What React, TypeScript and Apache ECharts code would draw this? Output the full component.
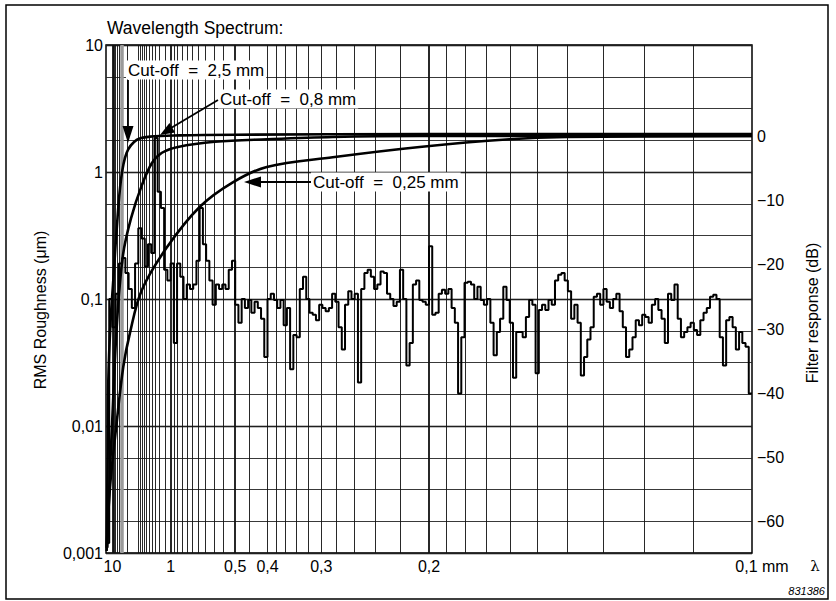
import React, { useEffect, useRef } from 'react';
import * as echarts from 'echarts';

// ---- Data ----
// Spectrum: RMS roughness (µm) per spatial-frequency bin (1/mm), bins of width SPEC_DF starting at SPEC_F0
const SPEC_F0 = 0;
const SPEC_DF = 0.05;
const spectrumRms = [
  0.0012, 0.10, 0.06, 0.11, 0.19, 0.21, 0.16, 0.12, 0.085, 0.19,
  0.36, 0.30, 0.18, 0.27, 0.23, 1.85, 0.70, 0.52, 0.17, 0.14,
  0.19, 0.045, 0.19, 0.15, 0.10, 0.13, 0.12, 0.13, 0.20, 0.52,
  0.27, 0.20, 0.14, 0.09, 0.13, 0.12, 0.13, 0.12, 0.17, 0.20,
  0.09, 0.065, 0.10, 0.085, 0.098, 0.078, 0.095, 0.085, 0.07, 0.035,
  0.10, 0.11, 0.098, 0.085, 0.098, 0.062, 0.085, 0.028, 0.052, 0.05,
  0.12, 0.15, 0.10, 0.078, 0.075, 0.068, 0.09, 0.085, 0.08, 0.085,
  0.11, 0.095, 0.06, 0.04, 0.09, 0.115, 0.10, 0.11, 0.022, 0.12,
  0.16, 0.17, 0.15, 0.12, 0.13, 0.165, 0.16, 0.11, 0.10, 0.088,
  0.095, 0.17, 0.10, 0.03, 0.045, 0.13, 0.14, 0.098, 0.095, 0.09,
  0.26, 0.075, 0.078, 0.11, 0.118, 0.11, 0.12, 0.085, 0.065, 0.018,
  0.05, 0.134, 0.137, 0.13, 0.10, 0.125, 0.098, 0.09, 0.10, 0.065,
  0.036, 0.055, 0.07, 0.125, 0.098, 0.065, 0.024, 0.055, 0.055, 0.05,
  0.072, 0.098, 0.09, 0.026, 0.082, 0.09, 0.082, 0.098, 0.09, 0.14,
  0.155, 0.16, 0.14, 0.115, 0.07, 0.09, 0.065, 0.025, 0.035, 0.048,
  0.06, 0.104, 0.11, 0.09, 0.12, 0.095, 0.085, 0.10, 0.11, 0.08,
  0.06, 0.035, 0.04, 0.05, 0.068, 0.062, 0.075, 0.072, 0.065, 0.09,
  0.10, 0.082, 0.07, 0.045, 0.11, 0.098, 0.13, 0.07, 0.05, 0.055,
  0.06, 0.065, 0.057, 0.052, 0.068, 0.078, 0.085, 0.104, 0.108, 0.10,
  0.05, 0.03, 0.068, 0.072, 0.06, 0.04, 0.055, 0.045, 0.042, 0.018,
];

// Filter responses: [spatial frequency (1/mm), response (dB)]
const cutoff25 = [
  [0.01, -64], [0.025, -50], [0.036, -38], [0.07, -29], [0.113, -22.4], [0.165, -14.6],
  [0.232, -6.8], [0.32, -2.6], [0.475, -0.6], [0.68, -0.1], [1.14, 0.1], [2, 0.2], [5, 0.3], [10, 0.3],
];
const cutoff08 = [
  [0.02, -64], [0.05, -55], [0.093, -45], [0.17, -29], [0.263, -18.5], [0.387, -12.8],
  [0.557, -7.6], [0.711, -4.2], [0.866, -2.6], [1.113, -1.7], [1.685, -0.9], [2.5, -0.5],
  [3.51, -0.15], [4.85, 0], [10, 0],
];
const cutoff025 = [
  [0.01, -64.5], [0.062, -54.6], [0.165, -44.6], [0.267, -35.9], [0.371, -30.6], [0.552, -24],
  [0.943, -17.3], [1.453, -11], [1.963, -7.2], [2.489, -4.8], [3.51, -3.3], [4.855, -1.7],
  [6.246, -0.5], [7.127, -0.15], [10, 0],
];

// Grid / tick definitions (wavelengths in mm)
const gridWavelengths = [
  10, 9, 8, 7, 6, 5, 3, 2, 1.9, 1.8, 1.7, 1.6, 1.5, 1.4, 1.3, 1.2, 1.1, 1,
  0.95, 0.9, 0.85, 0.8, 0.75, 0.7, 0.65, 0.6, 0.55, 0.5, 0.45, 0.4,
  0.38, 0.36, 0.34, 0.32, 0.3, 0.28, 0.26, 0.24, 0.22, 0.2,
  0.19, 0.18, 0.17, 0.16, 0.15, 0.14, 0.13, 0.12, 0.11,
];
const boldWavelengths = [10, 1, 0.5, 0.2];
const greyWavelengths = [4];
const xTickWavelengths = [10, 1, 0.5, 0.4, 0.3, 0.2, 0.1];
const xTickLabels = ['10', '1', '0,5', '0,4', '0,3', '0,2', '0,1 mm'];
const yTickValues = [10, 1, 0.1, 0.01, 0.001];
const yTickLabels = ['10', '1', '0,1', '0,01', '0,001'];
const dbTicks = [0, -10, -20, -30, -40, -50, -60];

const FONT = '"Liberation Sans", Arial, Helvetica, sans-serif';

export default function App() {
  const ref = useRef<HTMLDivElement>(null);

  useEffect(() => {
    if (!ref.current) return;
    const chart = echarts.init(ref.current, undefined, { renderer: 'svg' });

    const specData = spectrumRms.map((v, i) => [SPEC_F0 + i * SPEC_DF, v]);
    specData.push([10, spectrumRms[spectrumRms.length - 1]]);

    const vLines = [
      ...gridWavelengths.map((w) => ({
        xAxis: 1 / w,
        lineStyle: {
          color: '#111',
          width: boldWavelengths.includes(w) ? 1.8 : 0.9,
          type: 'solid',
        },
      })),
      ...greyWavelengths.map((w) => ({
        xAxis: 1 / w,
        lineStyle: { color: '#9a9a9a', width: 3.5, type: 'solid' },
      })),
    ];

    const xCustom = xTickWavelengths.map((w) => 1 / w);

    const cutText = (text: string, x: number, y: number) => ({
      type: 'text',
      x,
      y,
      z: 100,
      style: {
        text,
        fontFamily: FONT,
        fontSize: 17,
        fill: '#000',
        align: 'left',
        verticalAlign: 'middle',
        backgroundColor: '#fff',
        padding: [1, 2, 1, 2],
      },
    });

    const option: any = {
      animation: false,
      backgroundColor: '#fff',
      grid: {
        left: 106,
        top: 45,
        width: 646,
        height: 508,
        show: true,
        borderColor: '#000',
        borderWidth: 1.5,
        backgroundColor: 'transparent',
      },
      xAxis: {
        type: 'value',
        min: 0,
        max: 10,
        axisLine: { show: false },
        axisTick: { show: false },
        splitLine: { show: false },
        axisLabel: {
          customValues: xCustom,
          color: '#000',
          fontSize: 16,
          fontFamily: FONT,
          margin: 5,
          formatter: (v: number) => {
            const i = xCustom.findIndex((c) => Math.abs(c - v) < 1e-6);
            if (i < 0) return '';
            if (i === xCustom.length - 1) return '{mm|' + xTickLabels[i] + '}';
            return xTickLabels[i];
          },
          rich: {
            mm: { fontSize: 16, fontFamily: FONT, color: '#000', padding: [0, 0, 0, 20] },
          },
        },
      },
      yAxis: [
        {
          type: 'log',
          logBase: 10,
          min: 0.001,
          max: 10,
          splitNumber: 4,
          position: 'left',
          axisLine: { show: false },
          axisTick: { show: false },
          splitLine: { show: true, lineStyle: { color: '#000', width: 1.3 } },
          axisLabel: {
            color: '#000',
            fontSize: 16,
            fontFamily: FONT,
            margin: 3,
            formatter: (v: number) => {
              const i = yTickValues.findIndex(
                (t) => Math.abs(Math.log10(t) - Math.log10(v)) < 1e-6
              );
              return i >= 0 ? yTickLabels[i] : '';
            },
          },
        },
        {
          type: 'value',
          min: -64.82,
          max: 14.15,
          position: 'right',
          axisLine: { show: false },
          axisTick: { show: false },
          splitLine: { show: false },
          axisLabel: {
            customValues: dbTicks,
            color: '#000',
            fontSize: 16,
            fontFamily: FONT,
            margin: 5,
            formatter: (v: number) => (v === 0 ? '0' : '\u2212' + Math.abs(v)),
          },
        },
        {
          type: 'value',
          min: 0,
          max: 16,
          interval: 1,
          position: 'left',
          axisLine: { show: false },
          axisTick: { show: false },
          axisLabel: { show: false },
          splitLine: { show: true, lineStyle: { color: '#222', width: 0.9 } },
        },
      ],
      series: [
        {
          type: 'line',
          name: 'grid',
          xAxisIndex: 0,
          yAxisIndex: 2,
          data: [[0, 0]],
          symbol: 'none',
          lineStyle: { opacity: 0 },
          silent: true,
          z: 1,
          markLine: {
            silent: true,
            symbol: ['none', 'none'],
            label: { show: false },
            data: vLines,
          },
        },
        {
          type: 'line',
          name: 'spectrum',
          xAxisIndex: 0,
          yAxisIndex: 0,
          data: specData,
          step: 'end',
          symbol: 'none',
          lineStyle: { color: '#000', width: 2 },
          z: 5,
        },
        {
          type: 'line',
          name: 'Cut-off 2,5 mm',
          yAxisIndex: 1,
          data: cutoff25,
          smooth: 0.35,
          symbol: 'none',
          lineStyle: { color: '#000', width: 2.6 },
          z: 6,
        },
        {
          type: 'line',
          name: 'Cut-off 0,8 mm',
          yAxisIndex: 1,
          data: cutoff08,
          smooth: 0.35,
          symbol: 'none',
          lineStyle: { color: '#000', width: 2.6 },
          z: 6,
        },
        {
          type: 'line',
          name: 'Cut-off 0,25 mm',
          yAxisIndex: 1,
          data: cutoff025,
          smooth: 0.35,
          symbol: 'none',
          lineStyle: { color: '#000', width: 2.6 },
          z: 6,
        },
      ],
      graphic: [
        {
          type: 'rect',
          shape: { x: 6, y: 5, width: 822, height: 594 },
          style: { fill: 'none', stroke: '#000', lineWidth: 1.5 },
          silent: true,
        },
        {
          type: 'text',
          x: 107,
          y: 28,
          style: {
            text: 'Wavelength Spectrum:',
            fontFamily: FONT,
            fontSize: 17.5,
            fill: '#000',
            align: 'left',
            verticalAlign: 'middle',
          },
        },
        {
          type: 'text',
          x: 40,
          y: 310,
          rotation: Math.PI / 2,
          style: {
            text: 'RMS Roughness (\u03bcm)',
            fontFamily: FONT,
            fontSize: 16,
            fill: '#000',
            align: 'center',
            verticalAlign: 'middle',
          },
        },
        {
          type: 'text',
          x: 812,
          y: 313,
          rotation: Math.PI / 2,
          style: {
            text: 'Filter response (dB)',
            fontFamily: FONT,
            fontSize: 16,
            fill: '#000',
            align: 'center',
            verticalAlign: 'middle',
          },
        },
        {
          type: 'text',
          x: 815,
          y: 566,
          style: {
            text: '\u03bb',
            fontFamily: '"DejaVu Serif", serif',
            fontSize: 15,
            fill: '#000',
            align: 'center',
            verticalAlign: 'middle',
          },
        },
        {
          type: 'text',
          x: 825,
          y: 591,
          style: {
            text: '831386',
            fontFamily: FONT,
            fontSize: 11,
            fontStyle: 'italic',
            fill: '#000',
            align: 'right',
            verticalAlign: 'middle',
          },
        },
        cutText('Cut-off  =  2,5 mm', 126, 70),
        cutText('Cut-off  =  0,8 mm', 218, 99),
        cutText('Cut-off  =  0,25 mm', 311, 182),
        // arrow 2.5 mm
        {
          type: 'line',
          z: 100,
          shape: { x1: 128, y1: 80, x2: 128, y2: 129 },
          style: { stroke: '#000', lineWidth: 1.8 },
        },
        {
          type: 'polygon',
          z: 100,
          shape: { points: [[128, 143], [122.5, 126], [133.5, 126]] },
          style: { fill: '#000' },
        },
        // arrow 0.8 mm
        {
          type: 'line',
          z: 100,
          shape: { x1: 218, y1: 100, x2: 171, y2: 128 },
          style: { stroke: '#000', lineWidth: 1.8 },
        },
        {
          type: 'polygon',
          z: 100,
          shape: { points: [[160, 135], [175, 132.5], [169.5, 123]] },
          style: { fill: '#000' },
        },
        // arrow 0.25 mm
        {
          type: 'line',
          z: 100,
          shape: { x1: 311, y1: 182, x2: 258, y2: 182 },
          style: { stroke: '#000', lineWidth: 1.8 },
        },
        {
          type: 'polygon',
          z: 100,
          shape: { points: [[244, 182], [261, 176.5], [261, 187.5]] },
          style: { fill: '#000' },
        },
      ],
    };

    chart.setOption(option);
    return () => chart.dispose();
  }, []);

  return (
    <div
      ref={ref}
      style={{ position: 'fixed', left: 0, top: 0, width: 836, height: 601, background: '#fff' }}
    />
  );
}
